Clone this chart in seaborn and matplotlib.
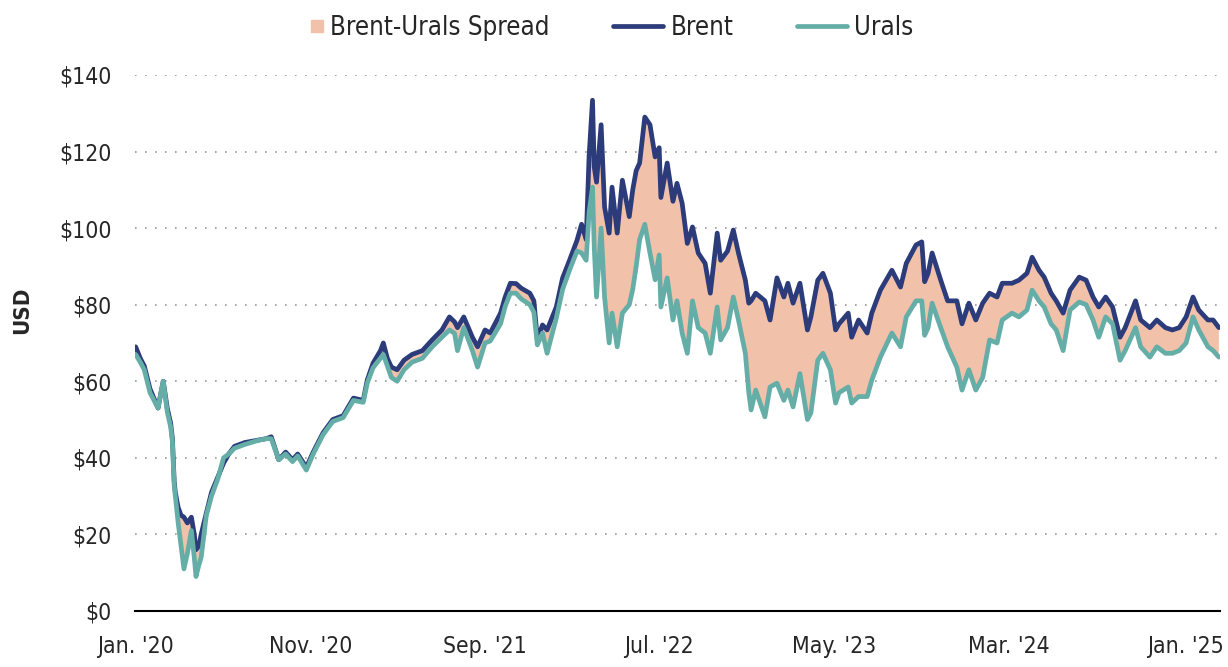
import pandas as pd
import seaborn as sns
import matplotlib.pyplot as plt
from matplotlib.patches import Patch, Rectangle
from matplotlib.lines import Line2D
from matplotlib.legend_handler import HandlerPatch

# values (USD per barrel)
dates = [
    "2020-01-02", "2020-01-10", "2020-01-17", "2020-01-27", "2020-02-10", "2020-02-15", "2020-02-19",
    "2020-02-26", "2020-03-03", "2020-03-06", "2020-03-09", "2020-03-11", "2020-03-16", "2020-03-21",
    "2020-03-26", "2020-04-01", "2020-04-08", "2020-04-13", "2020-04-16", "2020-04-21", "2020-04-25",
    "2020-05-04", "2020-05-13", "2020-05-24", "2020-06-03", "2020-06-12", "2020-06-22", "2020-07-10",
    "2020-08-01", "2020-08-16", "2020-08-25", "2020-09-07", "2020-09-19", "2020-10-01", "2020-10-10",
    "2020-10-25", "2020-11-06", "2020-11-23", "2020-12-10", "2020-12-28",
    "2021-01-15", "2021-02-01", "2021-02-08", "2021-02-18", "2021-03-03", "2021-03-08", "2021-03-15",
    "2021-03-22", "2021-04-01", "2021-04-13", "2021-04-27", "2021-05-15", "2021-06-01", "2021-06-18",
    "2021-07-01", "2021-07-10", "2021-07-15", "2021-07-26", "2021-08-10", "2021-08-19", "2021-09-01",
    "2021-09-10", "2021-09-28", "2021-10-06", "2021-10-15", "2021-10-25", "2021-11-03", "2021-11-18",
    "2021-11-25", "2021-12-01", "2021-12-10", "2021-12-18",
    "2022-01-03", "2022-01-14", "2022-01-26", "2022-02-08", "2022-02-16", "2022-02-24", "2022-03-01",
    "2022-03-07", "2022-03-10", "2022-03-14", "2022-03-22", "2022-03-28", "2022-04-05", "2022-04-10",
    "2022-04-19", "2022-04-28", "2022-05-10", "2022-05-16", "2022-05-22", "2022-05-28", "2022-06-06",
    "2022-06-15", "2022-06-24", "2022-07-01", "2022-07-04", "2022-07-15", "2022-07-25", "2022-08-01",
    "2022-08-10", "2022-08-19", "2022-08-28", "2022-09-07", "2022-09-19", "2022-09-28", "2022-10-10",
    "2022-10-16", "2022-10-28", "2022-11-07", "2022-11-16", "2022-11-28", "2022-12-04", "2022-12-08",
    "2022-12-16",
    "2023-01-01", "2023-01-10", "2023-01-22", "2023-02-03", "2023-02-10", "2023-02-19", "2023-03-03",
    "2023-03-16", "2023-03-22", "2023-04-03", "2023-04-12", "2023-04-25", "2023-05-04", "2023-05-10",
    "2023-05-26", "2023-06-01", "2023-06-13", "2023-06-28", "2023-07-06", "2023-07-21", "2023-08-10",
    "2023-08-25", "2023-09-04", "2023-09-21", "2023-10-01", "2023-10-06", "2023-10-12", "2023-10-19",
    "2023-11-03", "2023-11-15", "2023-12-01", "2023-12-10", "2023-12-22",
    "2024-01-03", "2024-01-15", "2024-01-27", "2024-02-09", "2024-02-18", "2024-03-06", "2024-03-18",
    "2024-04-01", "2024-04-10", "2024-04-22", "2024-05-01", "2024-05-13", "2024-05-22", "2024-06-03",
    "2024-06-15", "2024-07-01", "2024-07-13", "2024-07-25", "2024-08-04", "2024-08-16", "2024-08-28",
    "2024-09-10", "2024-09-19", "2024-10-07", "2024-10-16", "2024-11-01", "2024-11-13", "2024-11-28",
    "2024-12-10", "2024-12-22",
    "2025-01-03", "2025-01-15", "2025-01-25", "2025-02-10", "2025-02-19", "2025-03-01",
]
brent = [
    69, 66, 64, 58, 53, 57, 60, 53, 49, 45, 34, 31, 27, 25, 24.5, 23, 24.5, 20, 16, 17, 20,
    25.6, 31, 35, 38.6, 41, 43, 44, 44.6, 45, 45.5, 39.5, 41.5, 39.5, 41, 37.5, 41.5, 46.5, 50, 51,
    55.6, 55, 60.3, 64.7, 68, 70, 66, 63.7, 63, 65.5, 67, 68, 70.8, 73.4, 76.8, 75.5, 74, 76.8,
    71.5, 69, 73.4, 72.6, 77.8, 82, 85.6, 85.5, 84.3, 83, 81, 71, 74.7, 73.4,
    79.4, 87, 91.6, 96.8, 101, 97, 118.6, 133.4, 116, 112, 127, 105.5, 98.7, 110.7, 98.7, 112.5,
    103, 110, 115, 117, 129, 127, 118.6, 121, 108, 117, 107, 111.7, 106.5, 96, 100.3, 93.5, 90.8,
    83, 98.7, 91.6, 94, 99.5, 93.5, 86.4, 80.4, 81, 83,
    81, 76, 87, 82, 85.6, 80.4, 85.6, 73.4, 76.8, 86.4, 88.2, 83, 73.4, 75, 77.8, 71.5, 76, 72.6,
    77.8, 83.8, 89, 84.6, 90.8, 95.6, 96.4, 86, 88.2, 93.5, 86.4, 81, 81, 75, 80.4,
    76, 80.4, 83, 82, 85.6, 85.6, 86.4, 88.2, 92.4, 89, 87.2, 83, 81, 77.8, 83.8, 87.2, 86.4, 82,
    79.4, 82, 79.4, 71.5, 74, 81, 76, 74, 76, 74, 73.4, 74,
    76.8, 82, 78.6, 76, 76, 74,
]
urals = [
    67, 65, 63, 57, 53, 57, 60, 52, 48, 44, 33, 30, 23, 17, 11, 15, 21, 14, 9, 12, 14,
    25, 30, 34.5, 40, 41, 42.5, 43.5, 44.5, 45, 45, 39.5, 41, 39, 40.5, 36.8, 41, 46, 49.5, 50.5,
    55, 54.5, 59.5, 63.5, 66, 67, 64, 61, 60, 63, 65, 66, 69, 71.5, 73.4, 72.5, 68, 74,
    68, 63.7, 70, 70.5, 75, 79.5, 83, 83, 81.5, 80, 78, 69.5, 72.6, 67.3,
    76.5, 84, 89, 94, 93.5, 91.6, 104, 110.7, 95, 82, 100, 82, 70, 77.8, 69, 77.8,
    80, 84, 90, 97, 101, 93.5, 86.5, 93, 79.4, 87, 76, 81, 72.6, 67.3, 81, 74, 72.6,
    67.3, 79.4, 70.8, 74, 82, 76, 67.3, 57, 52.5, 57.7,
    50.7, 58.5, 59.5, 55, 57.7, 53.3, 62, 50, 51.7, 65.5, 67.3, 63, 54.3, 57, 58.5, 54.3, 56, 56,
    60.3, 66.3, 72.6, 69, 76.8, 81, 81, 72, 74, 80.4, 74, 69, 63.7, 57.7, 63,
    57.7, 61, 70.8, 70, 76, 77.8, 76.8, 78.6, 83.8, 81, 79.4, 75, 73.4, 68, 78.6, 80.7, 80, 76,
    71.5, 76.8, 75, 65.5, 68, 74, 69, 66.3, 69, 67.3, 67.3, 68,
    70, 76.8, 73.4, 69, 68, 66.3,
]
tick_dates = ["2020-01-01", "2020-11-01", "2021-09-01", "2022-07-01", "2023-05-01", "2024-03-01", "2025-01-01"]
tick_labels = ["Jan. '20", "Nov. '20", "Sep. '21", "Jul. '22", "May. '23", "Mar. '24", "Jan. '25"]

BRENT_C = "#2c3b7a"
URALS_C = "#65aea8"
SPREAD_C = "#f1c1aa"

df = pd.DataFrame({"date": pd.to_datetime(dates), "Brent": brent, "Urals": urals})
df_long = df.melt(id_vars="date", var_name="series", value_name="price")

sns.set_style("white")
plt.rcParams["font.family"] = ["DejaVu Sans"]
plt.rcParams["font.stretch"] = "condensed"

fig = plt.figure(figsize=(12.28, 6.67), dpi=100)
ax = fig.add_axes([0.11, 0.084, 0.8835, 0.8036])

ax.fill_between(df["date"], df["Urals"], df["Brent"], where=df["Brent"] >= df["Urals"],
                interpolate=True, color=SPREAD_C, lw=0, zorder=1)
sns.lineplot(data=df_long, x="date", y="price", hue="series",
             palette={"Brent": BRENT_C, "Urals": URALS_C}, hue_order=["Brent", "Urals"],
             linewidth=3.4, legend=False, ax=ax, zorder=3)

ax.set_ylim(0, 140)
ax.set_xlim(pd.Timestamp("2020-01-01"), pd.Timestamp("2025-03-03"))
ax.set_yticks(range(0, 141, 20))
ax.set_yticklabels([f"${v}" for v in range(0, 141, 20)], fontsize=16.5)
ax.set_xticks(pd.to_datetime(tick_dates))
ax.set_xticklabels(tick_labels, fontsize=16.5)
ax.tick_params(axis="y", length=0, pad=17)
ax.tick_params(axis="x", length=0, pad=17)

for v in range(20, 141, 20):
    ax.axhline(v, color="#9a9a9a", lw=1.2, ls=(0, (1, 5)), zorder=0)

for s in ["top", "right", "left"]:
    ax.spines[s].set_visible(False)
ax.spines["bottom"].set_color("black")
ax.spines["bottom"].set_linewidth(1.5)

ax.set_xlabel("")
ax.set_ylabel("USD", fontsize=16, fontweight="bold")
ax.yaxis.set_label_coords(-0.095, 0.56)


# small square swatch sitting right next to the label
def square_patch(legend, orig_handle, xdescent, ydescent, width, height, fontsize):
    s = 8.5
    return Rectangle((width - s - xdescent, (height - s) / 2 - ydescent), s, s)


handles = [
    Patch(color=SPREAD_C, label="Brent-Urals Spread"),
    Line2D([0], [0], color=BRENT_C, lw=3.4, label="Brent"),
    Line2D([0], [0], color=URALS_C, lw=3.4, label="Urals"),
]
fig.legend(handles=handles, loc="upper center", bbox_to_anchor=(0.483, 1.012), ncol=3,
           frameon=False, fontsize=18.5, handlelength=1.95, handleheight=0.7, columnspacing=2.45,
           handletextpad=0.3,
           handler_map={Patch: HandlerPatch(patch_func=square_patch)})

plt.savefig("out.png", dpi=100)
